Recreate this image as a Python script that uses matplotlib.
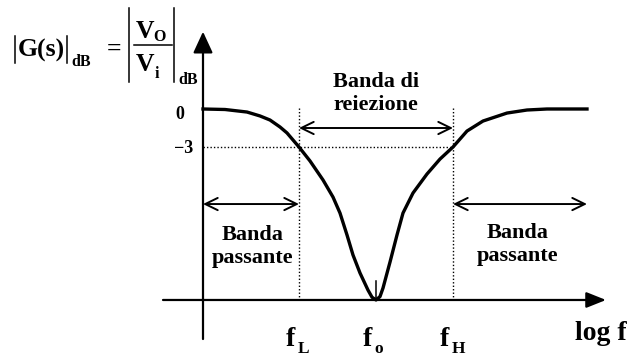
import numpy as np
import matplotlib.pyplot as plt
from matplotlib.lines import Line2D

plt.rcParams['font.family'] = ['Liberation Serif', 'DejaVu Sans']
plt.rcParams['font.weight'] = 'bold'

# dati (asse x: log f, unita' arbitrarie; asse y: dB)
f_L = 96
f_0 = 173
f_H = 250
curve_logf = [0, 22, 44, 57, 67, 77, 84, 96, 107, 120, 130, 137, 144, 150, 157,
              165, 169, 173, 177, 180, 187, 194, 200, 210, 224, 237, 250, 264,
              280, 304, 324, 344, 384]
curve_db = [0, -0.04, -0.24, -0.55, -0.87, -1.42, -1.89, -3.0, -4.10, -5.60,
            -6.95, -8.21, -9.94, -11.52, -12.94, -14.29, -14.85, -15.07,
            -14.8, -14.13, -12.08, -9.94, -8.21, -6.63, -5.13, -3.95, -3.0,
            -1.74, -0.95, -0.32, -0.08, 0, 0]
db_labels = ['0', '\u22123']
f_labels = [('f', 'L'), ('f', 'o'), ('f', 'H')]
axis_db = -15.07

fig = plt.figure(figsize=(6.3, 3.56), dpi=100)
ax = fig.add_axes([0, 0, 1, 1])
ax.set_xlim(-203, 427)
ax.set_ylim(-19.49, 8.6)
ax.axis('off')

def P(x, y):  # pixel -> frazione figura
    return x / 630, 1 - y / 356

# assi con frecce
ax.annotate('', xy=(403, axis_db), xytext=(-40, axis_db),
            arrowprops=dict(arrowstyle='-|>,head_length=0.6,head_width=0.24',
                            lw=1.6, color='k', shrinkA=0, shrinkB=0, mutation_scale=20))
ax.annotate('', xy=(0, 6.1), xytext=(0, -18.15),
            arrowprops=dict(arrowstyle='-|>,head_length=0.65,head_width=0.3',
                            lw=1.6, color='k', shrinkA=0, shrinkB=0, mutation_scale=20))

# linee tratteggiate
for fx in [f_L, f_H]:
    ax.plot([fx, fx], [0.08, axis_db], color='k', lw=1, ls=(0, (1, 1.5)))
ax.plot([0, f_H], [-3, -3], color='k', lw=1, ls=(0, (1, 1.5)))

# tacca a f0
ax.plot([f_0, f_0], [-13.58, axis_db], color='k', lw=1.1)

# curva
ax.plot(curve_logf, curve_db, color='k', lw=2.4, solid_joinstyle='round', zorder=3)

# frecce delle bande
dbl = dict(arrowstyle='<->,head_length=0.45,head_width=0.22', lw=1.4, color='k',
           shrinkA=0, shrinkB=0, mutation_scale=20)
ax.annotate('', xy=(f_L, -1.5), xytext=(f_H, -1.5), arrowprops=dbl)
ax.annotate('', xy=(0, -7.5), xytext=(f_L, -7.5), arrowprops=dbl)
ax.annotate('', xy=(f_H, -7.5), xytext=(384, -7.5), arrowprops=dbl)

# va='baseline' su testo multilinea allinea l'ultima riga
tk = dict(fontsize=16, fontweight='bold', ha='center', va='baseline', linespacing=1.2)
ax.text(f_0, -0.08, 'Banda di\nreiezione', **tk)
ax.text(50, -12.15, 'Banda\npassante', **tk)
ax.text(315, -12.0, 'Banda\npassante', **tk)

# etichette asse y
ax.text(-23, -0.4, db_labels[0], fontsize=13, fontweight='bold', ha='center', va='center')
ax.text(-19, -3.15, db_labels[1], fontsize=13, fontweight='bold', ha='center', va='center')

# etichette asse x
for fx, (main, sub) in zip([f_L, f_0, f_H], f_labels):
    ax.text(fx - 8.5, -18.7, main, fontsize=20, fontweight='bold', ha='center', va='baseline')
    ax.text(fx - 1.5, -19.26, sub, fontsize=12.5, fontweight='bold', ha='left', va='baseline')
ax.text(424, -18.2, 'log f', fontsize=20, fontweight='bold', ha='right', va='baseline')

# formula
def bar(x, y0, y1):
    fig.add_artist(Line2D([x / 630, x / 630], [1 - y0 / 356, 1 - y1 / 356],
                          color='k', lw=1.1, transform=fig.transFigure))

bar(15, 36, 63)
fig.text(*P(18, 57), 'G(s)', fontsize=18.5, fontweight='bold', va='baseline')
bar(67, 36, 63)
fig.text(*P(71, 66), 'dB', fontsize=11.5, fontweight='bold', va='baseline')
fig.text(*P(114, 56), '=', fontsize=18.5, fontweight='bold', ha='center', va='baseline')
bar(129, 8, 82)
fig.text(*P(136, 38), 'V', fontsize=18.5, fontweight='bold', va='baseline')
fig.text(*P(153, 41), 'O', fontsize=11.5, fontweight='bold', va='baseline')
fig.add_artist(Line2D([134 / 630, 172 / 630], [1 - 45 / 356] * 2, color='k', lw=1.1,
                      transform=fig.transFigure))
fig.text(*P(136, 71), 'V', fontsize=18.5, fontweight='bold', va='baseline')
fig.text(*P(155, 78), 'i', fontsize=11.5, fontweight='bold', va='baseline')
bar(174, 8, 82)
fig.text(*P(178, 84), 'dB', fontsize=11.5, fontweight='bold', va='baseline')

fig.savefig('out.png', dpi=100)
